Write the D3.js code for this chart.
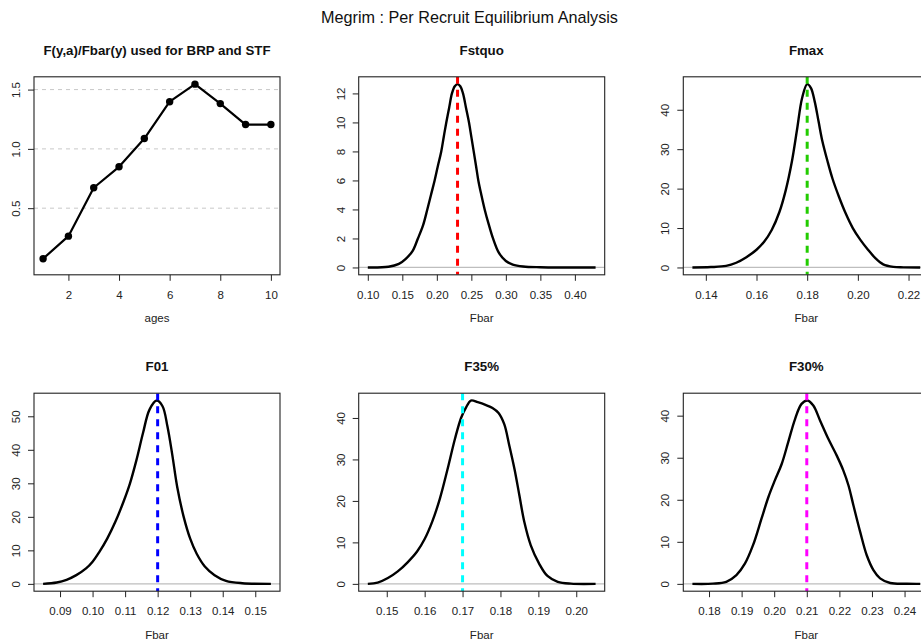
<!DOCTYPE html>
<html>
<head>
<meta charset="utf-8">
<script src="https://cdn.jsdelivr.net/npm/d3@7"></script>
<style>
  body { margin: 0; background: #fff; }
  svg { display: block; font-family: "Liberation Sans", Arial, Helvetica, sans-serif; }
</style>
</head>
<body>
<svg id="chart" width="921" height="642"></svg>
<script>
// ---- data ---------------------------------------------------------------
const mainTitle = "Megrim : Per Recruit Equilibrium Analysis";

// selectivity pattern F(y,a)/Fbar(y)
const ages = [1, 2, 3, 4, 5, 6, 7, 8, 9, 10];
const selectivity = [0.074, 0.264, 0.672, 0.849, 1.087, 1.398, 1.546, 1.382, 1.205, 1.205];
const ageTicks = [2, 4, 6, 8, 10];
const selTicks = [0.5, 1.0, 1.5];

// density of Fbar for each reference point
const fstquoX = [0.100, 0.130, 0.145, 0.155, 0.165, 0.1726, 0.180, 0.1862, 0.1915, 0.1968, 0.2015, 0.2064, 0.2100, 0.2137, 0.2178, 0.2219, 0.2260, 0.2300, 0.2340, 0.2379, 0.2423, 0.2466, 0.2500, 0.2534, 0.2568, 0.2601, 0.2645, 0.2693, 0.2750, 0.2814, 0.2900, 0.3000, 0.3100, 0.3250, 0.3500, 0.4300];
const fstquoY = [0.00, 0.05, 0.25, 0.60, 1.15, 2.0, 2.9, 4.0, 5.0, 6.0, 7.0, 8.0, 9.0, 10.0, 11.0, 12.0, 12.5, 12.64, 12.5, 12.0, 11.0, 10.0, 9.0, 8.0, 7.0, 6.0, 5.0, 4.0, 3.0, 2.0, 1.0, 0.45, 0.2, 0.07, 0.02, 0.00];

const fmaxX = [0.1347, 0.1420, 0.1480, 0.1520, 0.1560, 0.1600, 0.1630, 0.1660, 0.1690, 0.1715, 0.1740, 0.1760, 0.1780, 0.1800, 0.1815, 0.1830, 0.1845, 0.1860, 0.1880, 0.1900, 0.1925, 0.1950, 0.1980, 0.2010, 0.2040, 0.2070, 0.2100, 0.2140, 0.2180, 0.2246];
const fmaxY = [0, 0.1, 0.4, 1.2, 2.6, 4.5, 6.5, 9.5, 14.0, 19.5, 27.0, 35.0, 43.0, 46.5, 45.5, 42.0, 37.0, 32.0, 27.0, 22.5, 18.0, 14.0, 10.0, 7.0, 4.5, 2.3, 0.8, 0.15, 0.03, 0];

const f01X = [0.0848, 0.0890, 0.0920, 0.0950, 0.0980, 0.1000, 0.1020, 0.1045, 0.1070, 0.1095, 0.1115, 0.1135, 0.1155, 0.1175, 0.1197, 0.1215, 0.1230, 0.1245, 0.1260, 0.1280, 0.1300, 0.1320, 0.1345, 0.1375, 0.1410, 0.1460, 0.1548];
const f01Y = [0, 0.4, 1.2, 2.6, 4.6, 6.6, 9.4, 13.5, 18.5, 24.5, 30.0, 37.0, 45.0, 52.0, 54.7, 53.0, 47.0, 38.5, 29.0, 20.0, 13.5, 9.0, 5.2, 2.6, 0.9, 0.2, 0];

const f35X = [0.1450, 0.1476, 0.1503, 0.1529, 0.1555, 0.1580, 0.1600, 0.1620, 0.1640, 0.1660, 0.1680, 0.1696, 0.1709, 0.1722, 0.1740, 0.1762, 0.1779, 0.1795, 0.1810, 0.1823, 0.1837, 0.1850, 0.1863, 0.1880, 0.1902, 0.1924, 0.1951, 0.1986, 0.2051];
const f35Y = [0, 0.3, 1.4, 3.0, 5.2, 7.8, 10.8, 15.0, 20.5, 27.5, 35.0, 40.0, 42.5, 44.2, 43.8, 43.1, 42.4, 41.2, 38.5, 33.5, 27.7, 21.3, 14.9, 9.3, 4.9, 1.9, 0.5, 0.05, 0];

const f30X = [0.1749, 0.1812, 0.1853, 0.1884, 0.1910, 0.1935, 0.1961, 0.1982, 0.2002, 0.2023, 0.2043, 0.2064, 0.2084, 0.2102, 0.2120, 0.2141, 0.2166, 0.2192, 0.2212, 0.2228, 0.2243, 0.2264, 0.2284, 0.2305, 0.2325, 0.2356, 0.2407, 0.2448];
const f30Y = [0, 0.05, 0.5, 2.1, 4.8, 9.2, 15.5, 20.6, 24.6, 28.5, 33.7, 39.2, 42.8, 43.6, 42.4, 38.8, 34.5, 30.5, 27.0, 23.4, 18.7, 12.3, 6.8, 3.2, 1.3, 0.2, 0.02, 0];

// reference point values
const refTitles = ["Fstquo", "Fmax", "F01", "F35%", "F30%"];
const refValues = [0.23, 0.18, 0.12, 0.17, 0.21];
const refColors = ["#ff0000", "#22cc00", "#0000ff", "#00ffff", "#ff00ff"];

// axis ticks per density panel
const fstquoTicks = [0.10, 0.15, 0.20, 0.25, 0.30, 0.35, 0.40];
const fmaxTicks = [0.14, 0.16, 0.18, 0.20, 0.22];
const f01Ticks = [0.09, 0.10, 0.11, 0.12, 0.13, 0.14, 0.15];
const f35Ticks = [0.15, 0.16, 0.17, 0.18, 0.19, 0.20];
const f30Ticks = [0.18, 0.19, 0.20, 0.21, 0.22, 0.23, 0.24];
const fstquoYTicks = [0, 2, 4, 6, 8, 10, 12];
const densYTicks = [0, 10, 20, 30, 40];
const f01YTicks = [0, 10, 20, 30, 40, 50];

// ---- layout -------------------------------------------------------------
const svg = d3.select("#chart");
const colLeft = [34, 358.7, 683.3];
const rowTop = [76.8, 393.2];
const boxW = 246, boxH = 198;
const axisFont = 11.5, titleFont = 13.3;

// R-style range padding (4% each side)
function padded(ext) {
  const d = (ext[1] - ext[0]) * 0.04;
  return [ext[0] - d, ext[1] + d];
}

svg.append("text")
  .attr("x", 469.5).attr("y", 22.7)
  .attr("text-anchor", "middle")
  .attr("font-size", 16.2)
  .attr("fill", "#111")
  .text(mainTitle);

function panel(col, row, opts) {
  const left = colLeft[col], top = rowTop[row];
  const g = svg.append("g").attr("transform", `translate(${left},${top})`);
  const x = d3.scaleLinear().domain(padded(d3.extent(opts.xs))).range([0, boxW]);
  const yExt = d3.extent(opts.ys);
  const y = d3.scaleLinear().domain(padded([Math.min(0, yExt[0]), yExt[1]])).range([boxH, 0]);

  const clipId = "clip" + col + "_" + row;
  g.append("clipPath").attr("id", clipId)
    .append("rect").attr("width", boxW).attr("height", boxH);
  const plot = g.append("g").attr("clip-path", `url(#${clipId})`);

  opts.draw(plot, x, y);

  // frame
  g.append("rect")
    .attr("x", 0).attr("y", 0).attr("width", boxW).attr("height", boxH)
    .attr("fill", "none").attr("stroke", "#222").attr("stroke-width", 1.1);

  // x axis
  const xa = g.append("g").attr("transform", `translate(0,${boxH})`)
    .call(d3.axisBottom(x).tickValues(opts.xTicks).tickFormat(opts.xFmt).tickSize(6).tickSizeOuter(0));
  xa.select(".domain").remove();
  xa.selectAll("line").attr("stroke", "#222");
  xa.selectAll("text")
    .attr("y", 24).attr("dy", null)
    .attr("font-size", axisFont).attr("fill", "#222")
    .attr("font-family", null);

  // y axis, labels parallel to the axis
  const ya = g.append("g")
    .call(d3.axisLeft(y).tickValues(opts.yTicks).tickFormat(opts.yFmt).tickSize(6).tickSizeOuter(0));
  ya.select(".domain").remove();
  ya.selectAll("line").attr("stroke", "#222");
  ya.selectAll("text")
    .attr("x", 0).attr("y", 0).attr("dy", null)
    .attr("text-anchor", "middle")
    .attr("transform", "translate(-14,0) rotate(-90)")
    .attr("font-size", axisFont).attr("fill", "#222")
    .attr("font-family", null);

  // titles
  g.append("text")
    .attr("x", boxW / 2).attr("y", -22.3)
    .attr("text-anchor", "middle")
    .attr("font-size", titleFont).attr("font-weight", "bold").attr("fill", "#111")
    .text(opts.title);
  g.append("text")
    .attr("x", boxW / 2).attr("y", boxH + 47.5)
    .attr("text-anchor", "middle")
    .attr("font-size", axisFont).attr("fill", "#222")
    .text(opts.xLabel);
}

// selectivity panel
panel(0, 0, {
  xs: ages, ys: selectivity,
  xTicks: ageTicks, xFmt: d3.format("d"),
  yTicks: selTicks, yFmt: d3.format(".1f"),
  title: "F(y,a)/Fbar(y) used for BRP and STF", xLabel: "ages",
  draw(p, x, y) {
    p.selectAll("line.grid").data(selTicks).join("line")
      .attr("class", "grid")
      .attr("x1", 0).attr("x2", boxW)
      .attr("y1", d => y(d)).attr("y2", d => y(d))
      .attr("stroke", "#c8c8c8").attr("stroke-width", 1)
      .attr("stroke-dasharray", "4,4");
    const pts = ages.map((a, i) => [a, selectivity[i]]);
    p.append("path").datum(pts)
      .attr("d", d3.line().x(d => x(d[0])).y(d => y(d[1])))
      .attr("fill", "none").attr("stroke", "#000").attr("stroke-width", 2.2)
      .attr("stroke-linejoin", "round");
    p.selectAll("circle").data(pts).join("circle")
      .attr("cx", d => x(d[0])).attr("cy", d => y(d[1])).attr("r", 3.7)
      .attr("fill", "#000");
  }
});

function densityPanel(col, row, xs, ys, xTicks, yTicks, idx) {
  panel(col, row, {
    xs, ys, xTicks, xFmt: d3.format(".2f"),
    yTicks, yFmt: d3.format("d"),
    title: refTitles[idx], xLabel: "Fbar",
    draw(p, x, y) {
      p.append("line")
        .attr("x1", 0).attr("x2", boxW).attr("y1", y(0)).attr("y2", y(0))
        .attr("stroke", "#bebebe").attr("stroke-width", 1.2);
      const pts = xs.map((v, i) => [v, ys[i]]);
      p.append("path").datum(pts)
        .attr("d", d3.line().curve(d3.curveCatmullRom.alpha(0.5)).x(d => x(d[0])).y(d => y(d[1])))
        .attr("fill", "none").attr("stroke", "#000").attr("stroke-width", 2.4)
        .attr("stroke-linejoin", "round");
      p.append("line")
        .attr("x1", x(refValues[idx])).attr("x2", x(refValues[idx]))
        .attr("y1", 0).attr("y2", boxH)
        .attr("stroke", refColors[idx]).attr("stroke-width", 3)
        .attr("stroke-dasharray", "7,6");
    }
  });
}

densityPanel(1, 0, fstquoX, fstquoY, fstquoTicks, fstquoYTicks, 0);
densityPanel(2, 0, fmaxX, fmaxY, fmaxTicks, densYTicks, 1);
densityPanel(0, 1, f01X, f01Y, f01Ticks, f01YTicks, 2);
densityPanel(1, 1, f35X, f35Y, f35Ticks, densYTicks, 3);
densityPanel(2, 1, f30X, f30Y, f30Ticks, densYTicks, 4);
</script>
</body>
</html>
